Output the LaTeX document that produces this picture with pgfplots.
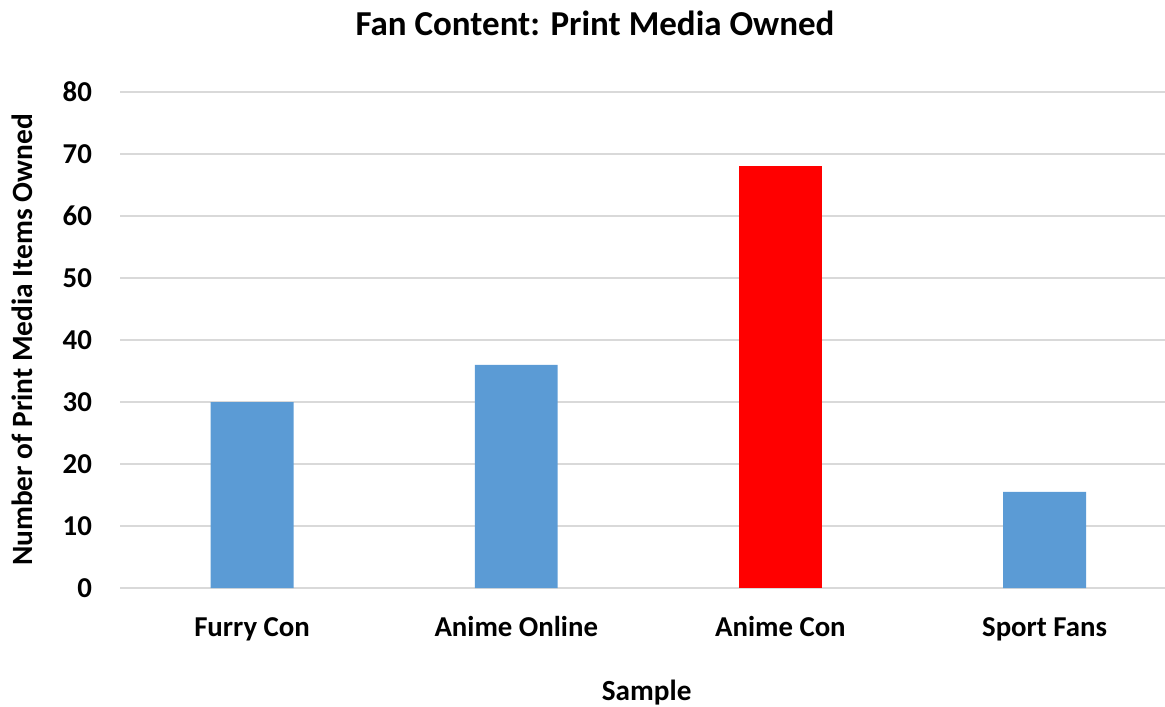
\documentclass[border=0pt]{standalone}
\usepackage{fontspec}
\setmainfont{Carlito}
\usepackage{pgfplots}
\pgfplotsset{compat=1.18}
\definecolor{barblue}{HTML}{5B9BD5}
\definecolor{barred}{HTML}{FF0000}
\definecolor{gridgray}{HTML}{D9D9D9}
\begin{document}
\begin{tikzpicture}
\useasboundingbox (0,0) rectangle (582.5pt,353pt);
\begin{axis}[
  at={(60pt,59pt)}, anchor=south west,
  scale only axis,
  width=522.5pt, height=248pt,
  xmin=-0.5, xmax=3.456,
  ymin=0, ymax=80,
  ytick={0,10,...,80},
  xtick={0,1,2,3},
  xticklabels={Furry Con,Anime Online,Anime Con,Sport Fans},
  axis line style={draw=none},
  major tick length=0pt,
  ymajorgrids,
  grid style={gridgray, line width=0.8pt},
  /pgf/number format/assume math mode=true,
  tick label style={font=\fontsize{14.4}{17}\selectfont\bfseries},
  yticklabel style={xshift=-10.5pt},
  xticklabel style={yshift=-11.5pt, text height=9.3pt, text depth=3pt},
  ylabel={Number of Print Media Items Owned},
  ylabel style={font=\fontsize{14.7}{17}\selectfont\bfseries, at={(axis description cs:0,0.5)}, anchor=center, yshift=49pt},
  xlabel={Sample},
  xlabel style={font=\fontsize{14.6}{17}\selectfont\bfseries, at={(axis description cs:0.504,0)}, anchor=center, yshift=-52.5pt, inner sep=0pt},
  title={Fan Content: Print Media Owned},
  title style={font=\fontsize{17.5}{21}\selectfont\bfseries, at={(axis description cs:0.4545,1)}, anchor=center, yshift=28.5pt},
  ybar, bar width=0.314,
  clip=false,
]
\addplot[fill=barblue, draw=none, bar shift=0pt] coordinates {(0,30) (1,36) (3,15.5)};
\addplot[fill=barred, draw=none, bar shift=0pt] coordinates {(2,68)};
\end{axis}
\end{tikzpicture}
\end{document}
